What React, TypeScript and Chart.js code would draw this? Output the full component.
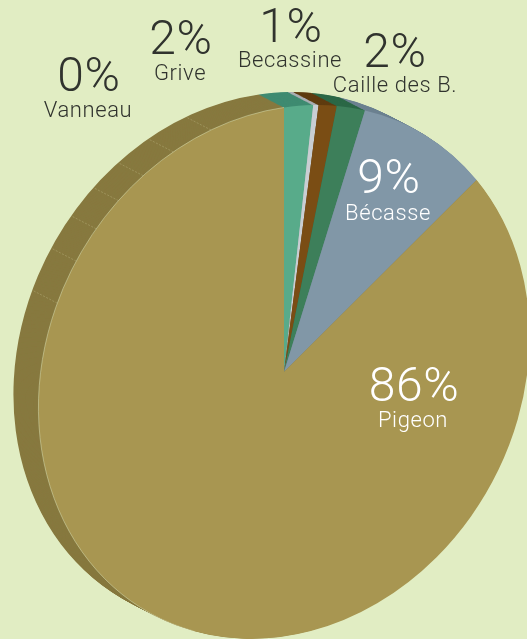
import React, { useEffect, useRef } from "react";
import { Chart, registerables } from "chart.js";

Chart.register(...registerables);

// Data
const species = ["Grive", "Vanneau", "Becassine", "Caille des B.", "Bécasse", "Pigeon"];
const shares = [1.9, 0.35, 1.2, 1.9, 9.0, 85.65];
const percentLabels = ["2%", "0%", "1%", "2%", "9%", "86%"];
const faceColors = ["#58ab8a", "#c9ced3", "#7a4d14", "#3d7f5a", "#8197a7", "#a89651"];
const rimColors = ["#3f8b71", "#a9aeb2", "#5f3c10", "#2c6847", "#6d8291", "#87793f"];
// Faint seams on the pie's side wall, in degrees clockwise from the top
const rimSeamDegrees = [-17.3, -26.8, -35, -42.4, -49.9, -57.8, -67.4];

// Layout of the labels
const labelX = [181, 89, 291, 395, 389, 414];
const percentY = [42, 79, 30, 55, 181, 389];
const nameY = [74, 111, 61, 86, 214, 421];
const nameXOffset = [-1, -1, -1, 0, -1, -1];
const labelColors = ["#30332e", "#30332e", "#30332e", "#30332e", "#ffffff", "#ffffff"];

const WIDTH = 527;
const HEIGHT = 639;
const APEX_X = 284;
const APEX_Y = 372;
const DEPTH_X = -25;
const DEPTH_Y = -13;
const DEPTH_STEPS = 28;
const SCALE_X = 0.932;
const SHEAR_Y = -0.135;
const SCALE_Y = 1.004;
const BG = "#e1edc3";
const FONT = "Roboto, 'Open Sans', sans-serif";

function placeDisc(ctx: CanvasRenderingContext2D, cx: number, cy: number, dx: number, dy: number) {
  ctx.translate(APEX_X + dx, APEX_Y + dy);
  ctx.transform(SCALE_X, SHEAR_Y, 0, SCALE_Y, 0, 0);
  ctx.translate(-cx, -cy);
}

const discPlugin = {
  id: "disc",
  beforeDatasetDraw(chart: any) {
    const ctx = chart.ctx as CanvasRenderingContext2D;
    const meta = chart.getDatasetMeta(0);
    const first = meta.data[0];
    const cx = first.x;
    const cy = first.y;
    const R = first.outerRadius;

    // side wall: the same arcs stacked along the depth direction, back to front
    for (let k = DEPTH_STEPS; k >= 1; k--) {
      ctx.save();
      placeDisc(ctx, cx, cy, (DEPTH_X * k) / DEPTH_STEPS, (DEPTH_Y * k) / DEPTH_STEPS);
      meta.data.forEach((arc: any, i: number) => {
        const saved = arc.options;
        const tmp = Object.create(saved);
        tmp.backgroundColor = rimColors[i];
        arc.options = tmp;
        arc.draw(ctx);
        arc.options = saved;
      });
      ctx.restore();
    }

    // seams on the wall
    ctx.save();
    ctx.strokeStyle = "rgba(205,200,150,0.4)";
    ctx.lineWidth = 0.8;
    ctx.setLineDash([2, 1.5]);
    rimSeamDegrees.forEach((deg) => {
      const t = (deg * Math.PI) / 180;
      const ux = R * Math.sin(t);
      const uy = -R * Math.cos(t);
      const fx = APEX_X + SCALE_X * ux;
      const fy = APEX_Y + SHEAR_Y * ux + SCALE_Y * uy;
      ctx.beginPath();
      ctx.moveTo(fx, fy);
      ctx.lineTo(fx + DEPTH_X, fy + DEPTH_Y);
      ctx.stroke();
    });
    ctx.restore();

    // the face itself, drawn by the library after this hook
    ctx.save();
    placeDisc(ctx, cx, cy, 0, 0);
  },
  afterDatasetDraw(chart: any) {
    const ctx = chart.ctx as CanvasRenderingContext2D;
    const first = chart.getDatasetMeta(0).data[0];
    // thin light edge along the face's rim
    ctx.beginPath();
    ctx.arc(first.x, first.y, first.outerRadius, Math.PI * 0.62, Math.PI * 1.5);
    ctx.strokeStyle = "rgba(225,237,195,0.55)";
    ctx.lineWidth = 0.8;
    ctx.stroke();
    ctx.restore();
  },
  afterDraw(chart: any) {
    const ctx = chart.ctx as CanvasRenderingContext2D;
    ctx.save();
    ctx.textAlign = "center";
    ctx.textBaseline = "middle";
    species.forEach((name, i) => {
      ctx.fillStyle = labelColors[i];
      (ctx as any).letterSpacing = "0.6px";
      ctx.font = `300 48px ${FONT}`;
      ctx.fillText(percentLabels[i], labelX[i], percentY[i]);
      ctx.font = `300 22px ${FONT}`;
      ctx.fillText(name, labelX[i] + nameXOffset[i], nameY[i]);
    });
    ctx.restore();
  },
};

export default function App() {
  const ref = useRef<HTMLCanvasElement>(null);

  useEffect(() => {
    document.body.style.margin = "0";
    document.body.style.background = BG;
    const chart = new Chart(ref.current as HTMLCanvasElement, {
      type: "pie",
      data: {
        labels: species,
        datasets: [
          {
            data: shares,
            backgroundColor: faceColors,
            borderWidth: 0,
            clip: false,
          } as any,
        ],
      },
      options: {
        responsive: false,
        animation: false,
        events: [],
        layout: { padding: 0 },
        plugins: { legend: { display: false }, tooltip: { enabled: false } },
      },
      plugins: [discPlugin],
    });
    return () => chart.destroy();
  }, []);

  return (
    <div style={{ width: WIDTH, height: HEIGHT, overflow: "hidden", background: BG }}>
      <canvas ref={ref} width={WIDTH} height={HEIGHT} style={{ display: "block" }} />
    </div>
  );
}
